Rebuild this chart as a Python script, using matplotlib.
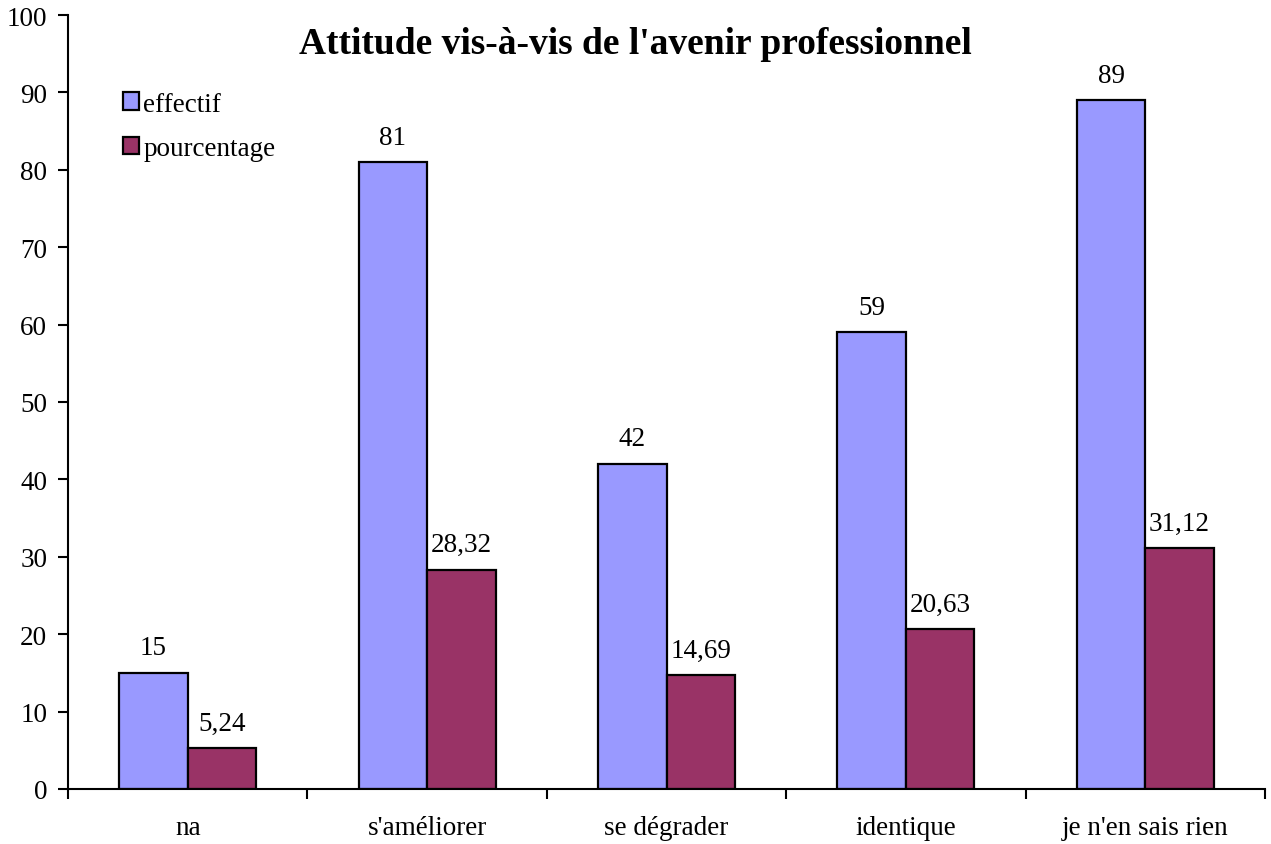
import numpy as np
import matplotlib
matplotlib.use("Agg")
import matplotlib.pyplot as plt
from matplotlib.patches import Patch

categories = ["na", "s'améliorer", "se dégrader", "identique", "je n'en sais rien"]
effectif = [15, 81, 42, 59, 89]
pourcentage = [5.24, 28.32, 14.69, 20.63, 31.12]
pct_labels = ["5,24", "28,32", "14,69", "20,63", "31,12"]

BLUE = "#9999ff"
PLUM = "#993366"

plt.rcParams.update({
    "font.family": ["Liberation Serif", "DejaVu Serif"],
    "font.size": 19.5,
})

fig = plt.figure(figsize=(12.71, 8.45), dpi=100)
ax = fig.add_axes([68 / 1271, 55 / 845, 1197 / 1271, 774 / 845])

x = np.arange(len(categories))
w = 0.286
b1 = ax.bar(x - w / 2, effectif, w, color=BLUE, edgecolor="black", linewidth=1.6)
b2 = ax.bar(x + w / 2, pourcentage, w, color=PLUM, edgecolor="black", linewidth=1.6)

# value labels above each bar
for rect, v in zip(b1, effectif):
    ax.annotate(str(v), (rect.get_x() + rect.get_width() / 2, rect.get_height()),
                xytext=(0, 9), textcoords="offset points", ha="center", va="bottom")
for rect, lab in zip(b2, pct_labels):
    ax.annotate(lab, (rect.get_x() + rect.get_width() / 2, rect.get_height()),
                xytext=(0, 9), textcoords="offset points", ha="center", va="bottom")

ax.set_xlim(-0.5, len(categories) - 0.5)
ax.set_ylim(0, 100)
ax.set_yticks(range(0, 101, 10))
ax.set_xticks(x)
ax.set_xticklabels(categories)
# ticks sit between categories
ax.set_xticks(np.arange(-0.5, len(categories), 1), minor=True)
ax.tick_params(axis="x", which="major", length=0, pad=19)
ax.tick_params(axis="x", which="minor", length=7, width=1.5, direction="out")
ax.tick_params(axis="y", length=7, width=1.5, direction="out", pad=8)

for s in ("top", "right"):
    ax.spines[s].set_visible(False)
for s in ("left", "bottom"):
    ax.spines[s].set_linewidth(1.5)

handles = [Patch(facecolor=BLUE, edgecolor="black", linewidth=1.6),
           Patch(facecolor=PLUM, edgecolor="black", linewidth=1.6)]
ax.legend(handles, ["effectif", "pourcentage"], loc="upper left",
          bbox_to_anchor=(0.037, 0.915), frameon=False,
          handlelength=0.6, handleheight=0.6, handletextpad=0.15,
          labelspacing=0.72, borderaxespad=0)

fig.text(0.5, 1 - 45 / 845, "Attitude vis-à-vis de l'avenir professionnel",
         ha="center", va="center", fontsize=27, fontweight="bold")

fig.savefig("out.png", dpi=100)
